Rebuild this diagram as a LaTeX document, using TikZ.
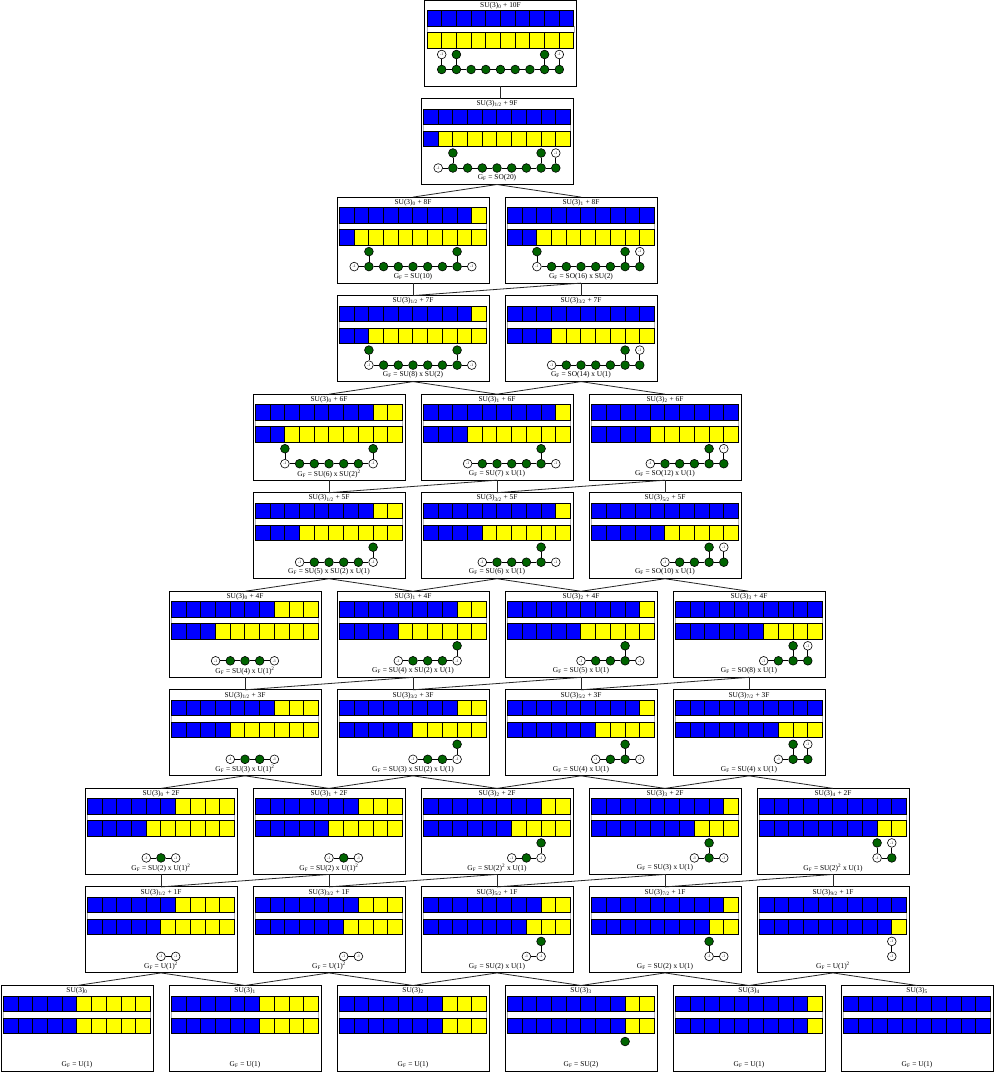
\documentclass[tikz,border=0pt]{standalone}
\usepackage{tikz}
\usepackage{fontspec}
\setmainfont{Liberation Serif}
\definecolor{sqblue}{RGB}{0,0,255}
\definecolor{sqyellow}{RGB}{255,255,0}
\definecolor{cfdgreen}{RGB}{0,100,0}
\tikzset{
  boxframe/.style={draw=black, line width=1pt, fill=white, minimum width=152pt, minimum height=86pt, inner sep=0pt, outer sep=0pt},
  sq/.style={draw=black, line width=1.4pt},
  gapline/.style={draw=black!30, line width=0.5pt},
  gnode/.style={circle, draw=black, line width=0.6pt, fill=cfdgreen, minimum size=8.7pt, inner sep=0pt},
  wnode/.style={circle, draw=black, line width=0.6pt, fill=white, minimum size=8.7pt, inner sep=0pt, font=\fontsize{3.8}{3.8}\selectfont},
  gedge/.style={draw=black, line width=0.8pt},
  conn/.style={draw=black!85, line width=0.8pt},
  ttl/.style={font=\fontsize{7.4}{8}\selectfont, inner sep=0pt},
}
\newcommand{\sbs}[1]{\textsubscript{#1}}
\newcommand{\sps}[1]{\textsuperscript{#1}}
\newcommand{\GF}{G\textsubscript{F}}
\newcommand{\cfdgraph}[3]{%
 \ifnum#2=#3\relax
   \ifnum#2=8\relax \node[gnode] (#1-u8) at ({2.5+14.7*8},56) {};\fi
 \else
   \pgfmathtruncatemacro\ga{max(#3,1)}%
   \pgfmathtruncatemacro\gb{min(#2,9)}%
   \foreach \p in {\ga,...,\gb}{%
     \ifnum\p=#3\relax \node[wnode] (#1-b\p) at ({2.5+14.7*\p},69.5) {-1};%
     \else\ifnum\p=#2\relax \node[wnode] (#1-b\p) at ({2.5+14.7*\p},69.5) {-1};%
     \else \node[gnode] (#1-b\p) at ({2.5+14.7*\p},69.5) {};\fi\fi
   }%
   \ifnum\ga<\gb\relax
     \pgfmathtruncatemacro\gc{\gb-1}%
     \foreach \p in {\ga,...,\gc}{\pgfmathtruncatemacro\q{\p+1}\draw[gedge] (#1-b\p) -- (#1-b\q);}%
   \fi
   \ifnum#3=0\relax \node[wnode] (#1-u1) at ({2.5+14.7},54.5) {-1}; \draw[gedge] (#1-u1) -- (#1-b1);\fi
   \ifnum#3<3\relax \node[gnode] (#1-u2) at ({2.5+14.7*2},54.5) {}; \draw[gedge] (#1-u2) -- (#1-b2);\fi
   \ifnum#2>7\relax\ifnum#3<9\relax \node[gnode] (#1-u8) at ({2.5+14.7*8},54.5) {}; \draw[gedge] (#1-u8) -- (#1-b8);\fi\fi
   \ifnum#2=10\relax \node[wnode] (#1-u9) at ({2.5+14.7*9},54.5) {-1}; \draw[gedge] (#1-u9) -- (#1-b9);\fi
 \fi}
\newcommand{\cfdbox}[7]{%
\begin{scope}[shift={({#2-76},{#3})}]
 \pgfmathsetmacro\cbx{#2-76}%
 \pgfmathsetmacro\cby{#3}%
 \pgfmathsetmacro\yA{round(\cby+10.5-0.5)+0.5-\cby}%
 \pgfmathsetmacro\yB{round(\cby+26-0.5)+0.5-\cby}%
 \pgfmathsetmacro\yC{round(\cby+32.5-0.5)+0.5-\cby}%
 \pgfmathsetmacro\yD{round(\cby+48-0.5)+0.5-\cby}%
 \node[boxframe] (#1) at (76,43) {};
 \node[ttl] at (76,5.5) {#4};
 \draw[gapline] (2.5,\yB) rectangle (149.5,\yC);
 \foreach \j in {0,...,9}{%
   \pgfmathsetmacro\xa{round(\cbx+2.5+14.7*\j-0.5)+0.5-\cbx}%
   \pgfmathsetmacro\xb{round(\cbx+2.5+14.7*(\j+1)-0.5)+0.5-\cbx}%
   \ifnum\j<#5\relax \fill[sqblue] (\xa,\yA) rectangle (\xb,\yB);%
   \else \fill[sqyellow] (\xa,\yA) rectangle (\xb,\yB);\fi
   \ifnum\j<#6\relax \fill[sqblue] (\xa,\yC) rectangle (\xb,\yD);%
   \else \fill[sqyellow] (\xa,\yC) rectangle (\xb,\yD);\fi
 }
 \foreach \j in {0,...,9}{%
   \pgfmathsetmacro\xa{round(\cbx+2.5+14.7*\j-0.5)+0.5-\cbx}%
   \pgfmathsetmacro\xb{round(\cbx+2.5+14.7*(\j+1)-0.5)+0.5-\cbx}%
   \draw[sq] (\xa,\yA) rectangle (\xb,\yB);
   \draw[sq] (\xa,\yC) rectangle (\xb,\yD);
 }
 \node[ttl] at (76,79.5) {#7};
 \cfdgraph{#1}{#5}{#6}
\end{scope}}
\begin{document}
\begin{tikzpicture}[x=1pt,y=-1pt]
\useasboundingbox[fill=white] (0,0) rectangle (994,1072);
% row 0
\cfdbox{n10-0}{500.5}{0}{SU(3)\sbs{0} + 10F}{10}{0}{}
% row 1
\cfdbox{n10-1}{497}{98.5}{SU(3)\sbs{1/2} + 9F}{10}{1}{\GF{} = SO(20)}
% row 2
\cfdbox{n9-1}{413}{197.1}{SU(3)\sbs{0} + 8F}{9}{1}{\GF{} = SU(10)}
\cfdbox{n10-2}{581}{197.1}{SU(3)\sbs{1} + 8F}{10}{2}{\GF{} = SO(16) x SU(2)}
% row 3
\cfdbox{n9-2}{413}{295.6}{SU(3)\sbs{1/2} + 7F}{9}{2}{\GF{} = SU(8) x SU(2)}
\cfdbox{n10-3}{581}{295.6}{SU(3)\sbs{3/2} + 7F}{10}{3}{\GF{} = SO(14) x U(1)}
% row 4
\cfdbox{n8-2}{329}{394.2}{SU(3)\sbs{0} + 6F}{8}{2}{\GF{} = SU(6) x SU(2)\sps{2}}
\cfdbox{n9-3}{497}{394.2}{SU(3)\sbs{1} + 6F}{9}{3}{\GF{} = SU(7) x U(1)}
\cfdbox{n10-4}{665}{394.2}{SU(3)\sbs{2} + 6F}{10}{4}{\GF{} = SO(12) x U(1)}
% row 5
\cfdbox{n8-3}{329}{492.7}{SU(3)\sbs{1/2} + 5F}{8}{3}{\GF{} = SU(5) x SU(2) x U(1)}
\cfdbox{n9-4}{497}{492.7}{SU(3)\sbs{3/2} + 5F}{9}{4}{\GF{} = SU(6) x U(1)}
\cfdbox{n10-5}{665}{492.7}{SU(3)\sbs{5/2} + 5F}{10}{5}{\GF{} = SO(10) x U(1)}
% row 6
\cfdbox{n7-3}{245}{591.3}{SU(3)\sbs{0} + 4F}{7}{3}{\GF{} = SU(4) x U(1)\sps{2}}
\cfdbox{n8-4}{413}{591.3}{SU(3)\sbs{1} + 4F}{8}{4}{\GF{} = SU(4) x SU(2) x U(1)}
\cfdbox{n9-5}{581}{591.3}{SU(3)\sbs{2} + 4F}{9}{5}{\GF{} = SU(5) x U(1)}
\cfdbox{n10-6}{749}{591.3}{SU(3)\sbs{3} + 4F}{10}{6}{\GF{} = SO(8) x U(1)}
% row 7
\cfdbox{n7-4}{245}{689.8}{SU(3)\sbs{1/2} + 3F}{7}{4}{\GF{} = SU(3) x U(1)\sps{2}}
\cfdbox{n8-5}{413}{689.8}{SU(3)\sbs{3/2} + 3F}{8}{5}{\GF{} = SU(3) x SU(2) x U(1)}
\cfdbox{n9-6}{581}{689.8}{SU(3)\sbs{5/2} + 3F}{9}{6}{\GF{} = SU(4) x U(1)}
\cfdbox{n10-7}{749}{689.8}{SU(3)\sbs{7/2} + 3F}{10}{7}{\GF{} = SU(4) x U(1)}
% row 8
\cfdbox{n6-4}{161}{788.4}{SU(3)\sbs{0} + 2F}{6}{4}{\GF{} = SU(2) x U(1)\sps{2}}
\cfdbox{n7-5}{329}{788.4}{SU(3)\sbs{1} + 2F}{7}{5}{\GF{} = SU(2) x U(1)\sps{2}}
\cfdbox{n8-6}{497}{788.4}{SU(3)\sbs{2} + 2F}{8}{6}{\GF{} = SU(2)\sps{2} x U(1)}
\cfdbox{n9-7}{665}{788.4}{SU(3)\sbs{3} + 2F}{9}{7}{\GF{} = SU(3) x U(1)}
\cfdbox{n10-8}{833}{788.4}{SU(3)\sbs{4} + 2F}{10}{8}{\GF{} = SU(2)\sps{2} x U(1)}
% row 9
\cfdbox{n6-5}{161}{886.9}{SU(3)\sbs{1/2} + 1F}{6}{5}{\GF{} = U(1)\sps{2}}
\cfdbox{n7-6}{329}{886.9}{SU(3)\sbs{3/2} + 1F}{7}{6}{\GF{} = U(1)\sps{2}}
\cfdbox{n8-7}{497}{886.9}{SU(3)\sbs{5/2} + 1F}{8}{7}{\GF{} = SU(2) x U(1)}
\cfdbox{n9-8}{665}{886.9}{SU(3)\sbs{7/2} + 1F}{9}{8}{\GF{} = SU(2) x U(1)}
\cfdbox{n10-9}{833}{886.9}{SU(3)\sbs{9/2} + 1F}{10}{9}{\GF{} = U(1)\sps{2}}
% row 10
\cfdbox{n5-5}{77}{985.5}{SU(3)\sbs{0}}{5}{5}{\GF{} = U(1)}
\cfdbox{n6-6}{245}{985.5}{SU(3)\sbs{1}}{6}{6}{\GF{} = U(1)}
\cfdbox{n7-7}{413}{985.5}{SU(3)\sbs{2}}{7}{7}{\GF{} = U(1)}
\cfdbox{n8-8}{581}{985.5}{SU(3)\sbs{3}}{8}{8}{\GF{} = SU(2)}
\cfdbox{n9-9}{749}{985.5}{SU(3)\sbs{4}}{9}{9}{\GF{} = U(1)}
\cfdbox{n10-10}{917}{985.5}{SU(3)\sbs{5}}{10}{10}{\GF{} = U(1)}
% connectors
\draw[conn] (n10-0.south) -- (n10-0.south |- n10-1.north);
\foreach \a/\b in {10-1/9-1, 10-1/10-2,
  9-1/9-2, 10-2/9-2, 10-2/10-3,
  9-2/8-2, 9-2/9-3, 10-3/9-3, 10-3/10-4,
  8-2/8-3, 9-3/8-3, 9-3/9-4, 10-4/9-4, 10-4/10-5,
  8-3/7-3, 8-3/8-4, 9-4/8-4, 9-4/9-5, 10-5/9-5, 10-5/10-6,
  7-3/7-4, 8-4/7-4, 8-4/8-5, 9-5/8-5, 9-5/9-6, 10-6/9-6, 10-6/10-7,
  7-4/6-4, 7-4/7-5, 8-5/7-5, 8-5/8-6, 9-6/8-6, 9-6/9-7, 10-7/9-7, 10-7/10-8,
  6-4/6-5, 7-5/6-5, 7-5/7-6, 8-6/7-6, 8-6/8-7, 9-7/8-7, 9-7/9-8, 10-8/9-8, 10-8/10-9,
  6-5/5-5, 6-5/6-6, 7-6/6-6, 7-6/7-7, 8-7/7-7, 8-7/8-8, 9-8/8-8, 9-8/9-9, 10-9/9-9, 10-9/10-10}
  \draw[conn] (n\a.south) -- (n\b.north);
\end{tikzpicture}
\end{document}
